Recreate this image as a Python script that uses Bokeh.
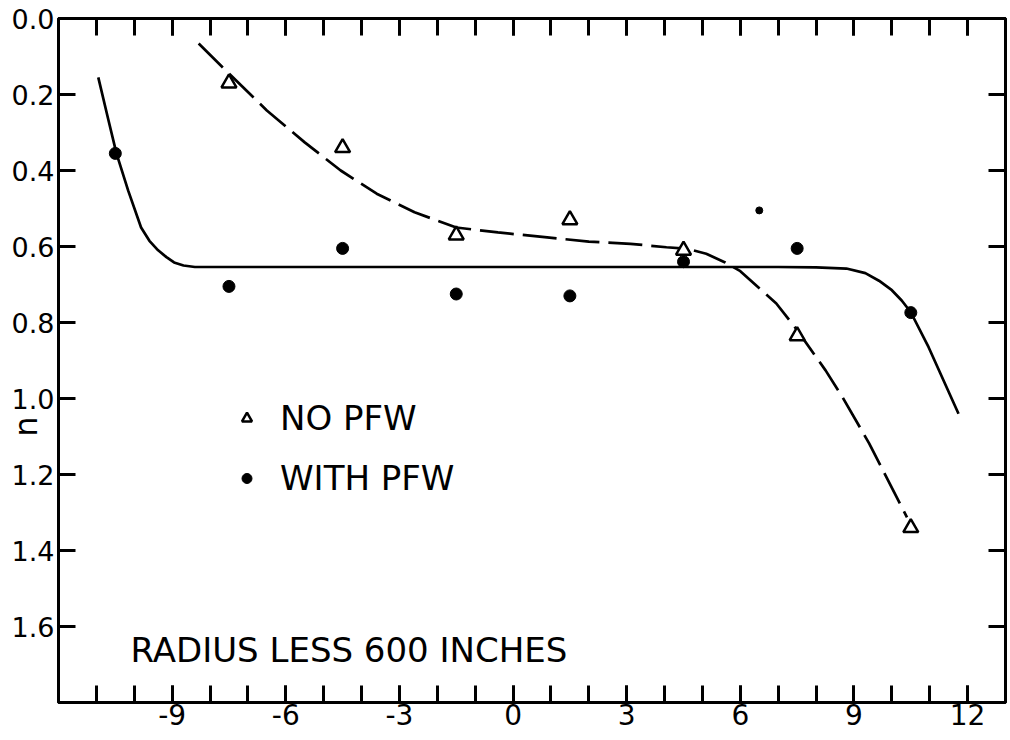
from bokeh.plotting import figure
from bokeh.models import (Range1d, LinearAxis, FixedTicker, Label, Legend, LegendItem,
                          CustomJSTickFormatter)
from bokeh.embed import file_html
from bokeh.resources import INLINE

FONT = "DejaVu Sans"

# ---- data ----
no_pfw_x = [-7.5, -4.5, -1.5, 1.5, 4.5, 7.5, 10.5]
no_pfw_y = [0.17, 0.34, 0.57, 0.53, 0.61, 0.835, 1.34]

with_pfw_x = [-10.5, -7.5, -4.5, -1.5, 1.5, 4.5, 7.5, 10.5]
with_pfw_y = [0.355, 0.705, 0.605, 0.725, 0.73, 0.64, 0.605, 0.774]

stray_x = [6.5]
stray_y = [0.505]

dashed_curve_x = [-8.3, -7.5, -6.5, -5.5, -4.55, -3.6, -2.6, -1.5, -0.4, 0.9, 2.0, 3.1,
                  4.05, 4.6, 5.1, 5.6, 6.0, 6.95, 7.5, 8.25, 8.7, 9.4, 10.4]
dashed_curve_y = [0.066, 0.145, 0.242, 0.326, 0.40, 0.461, 0.51, 0.55, 0.563, 0.576, 0.587, 0.593,
                  0.602, 0.606, 0.619, 0.642, 0.665, 0.75, 0.82, 0.926, 0.997, 1.118, 1.313]

solid_curve_x = [-10.95, -10.7, -10.47, -10.16, -9.82, -9.6, -9.37, -9.15, -8.95, -8.7, -8.4,
                 -7.2, -3.0, 0.0, 3.0, 6.0, 7.0, 8.0, 8.8, 9.3, 9.66, 10.0, 10.26, 10.5, 10.97, 11.76]
solid_curve_y = [0.155, 0.26, 0.355, 0.453, 0.55, 0.585, 0.61, 0.628, 0.642, 0.650, 0.654,
                 0.654, 0.654, 0.654, 0.654, 0.654, 0.654, 0.655, 0.658, 0.67, 0.69, 0.715, 0.742,
                 0.773, 0.865, 1.04]

x_label_ticks = [-9, -6, -3, 0, 3, 6, 9, 12]
x_tick_labels = ["-9", "-6", "-3", "0", "3", "6", "9", "12"]
x_minor_ticks = list(range(-11, 13))

y_ticks = [0.0, 0.2, 0.4, 0.6, 0.8, 1.0, 1.2, 1.4, 1.6]
y_tick_labels = ["0.0", "0.2", "0.4", "0.6", "0.8", "1.0", "1.2", "1.4", "1.6"]

legend_labels = ["NO PFW", "WITH PFW"]
note_text = "RADIUS LESS 600 INCHES"
y_axis_title = "n"

# ---- figure ----
p = figure(width=1008, height=736, output_backend="svg", toolbar_location=None,
           x_range=Range1d(-12, 13), y_range=Range1d(1.8, 0),
           x_axis_location=None, y_axis_location=None,
           min_border_left=58, min_border_right=3, min_border_top=18, min_border_bottom=34)
p.grid.visible = False
p.outline_line_color = "black"
p.outline_line_width = 3
p.background_fill_color = "white"
p.border_fill_color = "white"


def lookup_formatter(ticks, labels):
    return CustomJSTickFormatter(args=dict(tv=ticks, tl=labels), code="""
        for (let i = 0; i < tv.length; i++) {
            if (Math.abs(tv[i] - tick) < 1e-9) { return tl[i]; }
        }
        return "";
    """)


blank = CustomJSTickFormatter(code="return '';")


def style(ax, font_size):
    ax.axis_line_width = 3
    ax.axis_line_color = "black"
    ax.major_tick_in = 17
    ax.major_tick_out = 0
    ax.minor_tick_in = 17
    ax.minor_tick_out = 0
    ax.major_tick_line_width = 3
    ax.minor_tick_line_width = 3
    ax.major_tick_line_color = "black"
    ax.minor_tick_line_color = "black"
    ax.major_label_text_font = FONT
    ax.major_label_text_font_size = font_size
    ax.major_label_text_color = "black"


xticker = FixedTicker(ticks=x_label_ticks, minor_ticks=x_minor_ticks)
yticker = FixedTicker(ticks=y_ticks, minor_ticks=[])

bottom = LinearAxis(ticker=xticker, formatter=lookup_formatter(x_label_ticks, x_tick_labels))
style(bottom, "28px")
bottom.major_label_standoff = 1
p.add_layout(bottom, "below")

top = LinearAxis(ticker=xticker, formatter=blank)
style(top, "1px")
top.major_label_standoff = 0
p.add_layout(top, "above")

# axis title sits below the middle of the axis in the reference: trailing
# no-break spaces push the (centred) "n" downwards
left = LinearAxis(ticker=yticker, formatter=lookup_formatter(y_ticks, y_tick_labels),
                  axis_label=y_axis_title + "\u00a0" * 13)
style(left, "27px")
left.major_label_standoff = 4
left.axis_label_text_font = FONT
left.axis_label_text_font_size = "32px"
left.axis_label_text_font_style = "normal"
left.axis_label_text_color = "black"
left.axis_label_standoff = -36
p.add_layout(left, "left")

right = LinearAxis(ticker=yticker, formatter=blank)
style(right, "1px")
right.major_label_standoff = 0
p.add_layout(right, "right")

# ---- curves ----
p.line(solid_curve_x, solid_curve_y, line_color="black", line_width=2.7)
p.line(dashed_curve_x, dashed_curve_y, line_color="black", line_width=2.7, line_dash="34 9")

# ---- points ----
tri = p.scatter(no_pfw_x, no_pfw_y, marker="triangle", size=15, fill_color="white",
                line_color="black", line_width=2.5)
circ = p.scatter(with_pfw_x, with_pfw_y, marker="circle", size=12, fill_color="black",
                 line_color="black")
p.scatter(stray_x, stray_y, marker="circle", size=7, fill_color="black", line_color="black")

legend = Legend(items=[LegendItem(label=legend_labels[0], renderers=[tri]),
                       LegendItem(label=legend_labels[1], renderers=[circ])],
                location=(176, 204))
legend.border_line_color = None
legend.background_fill_alpha = 0
legend.label_text_font = FONT
legend.label_text_font_size = "34px"
legend.label_text_color = "black"
legend.glyph_width = 25
legend.glyph_height = 40
legend.label_height = 40
legend.spacing = 20
legend.padding = 0
legend.margin = 0
legend.label_standoff = 21
p.add_layout(legend, "center")

p.add_layout(Label(x=-10.1, y=1.663, text=note_text, text_font=FONT, text_font_size="34px",
                   text_align="left", text_baseline="middle", text_color="black"))

open("out.html", "w").write(file_html(p, INLINE))
